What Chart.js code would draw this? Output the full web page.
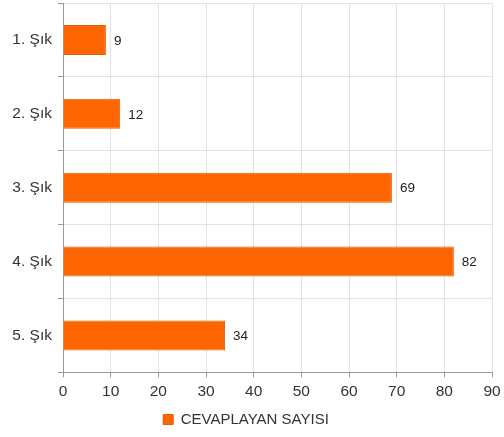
<!DOCTYPE html>
<html>
<head>
<meta charset="utf-8">
<script src="https://cdn.jsdelivr.net/npm/chart.js@4"></script>
<style>
  html, body { margin: 0; padding: 0; background: #fff; }
  #wrap { width: 504px; height: 437px; }
</style>
</head>
<body>
<div id="wrap"><canvas id="myChart"></canvas></div>
<script>
const categories = ['1. Şık', '2. Şık', '3. Şık', '4. Şık', '5. Şık'];
const answers = [9, 12, 69, 82, 34];
const seriesName = 'CEVAPLAYAN SAYISI';

// writes the value to the right of each bar
const valueLabels = {
    id: 'valueLabels',
    afterDatasetsDraw(chart) {
        const ctx = chart.ctx;
        const meta = chart.getDatasetMeta(0);
        ctx.save();
        ctx.font = '13.5px "Liberation Sans", Arial, sans-serif';
        ctx.fillStyle = '#222';
        ctx.textAlign = 'left';
        ctx.textBaseline = 'middle';
        meta.data.forEach(function(bar, i) {
            ctx.fillText(String(answers[i]), bar.x + 8, bar.y + 1);
        });
        ctx.restore();
    }
};

window.addEventListener('load', function() {
    Chart.defaults.font.family = '"Liberation Sans", Arial, sans-serif';
    Chart.defaults.font.size = 15.5;
    Chart.defaults.color = '#333';

    let ctx = document.getElementById('myChart').getContext('2d');
    let chart = new Chart(ctx, {
        type: 'bar',
        data: {
            labels: categories,
            datasets: [{
                label: seriesName,
                data: answers,
                backgroundColor: '#FF6600',
                borderColor: '#E0600A',
                borderWidth: 1,
                barPercentage: 0.5,
                categoryPercentage: 0.81
            }]
        },
        options: {
            indexAxis: 'y',
            responsive: true,
            maintainAspectRatio: false,
            animation: false,
            layout: { padding: { top: 3, right: 12, left: 0, bottom: 0 } },
            scales: {
                x: {
                    min: 0,
                    max: 90,
                    ticks: { stepSize: 10, color: '#333', padding: 5 },
                    grid: { color: '#e2e2e2', tickLength: 5, tickColor: '#999' },
                    border: { color: '#999' },
                    afterFit: function(scale) { scale.paddingLeft = 0; scale.paddingRight = 0; }
                },
                y: {
                    ticks: { color: '#333', padding: 6 },
                    grid: { color: '#e2e2e2', tickLength: 5, tickColor: '#999' },
                    border: { color: '#999' },
                    afterFit: function(scale) {
                        scale.width = 63;
                        scale.paddingTop = 0; scale.paddingBottom = 0;
                    }
                }
            },
            plugins: {
                legend: {
                    position: 'bottom',
                    labels: {
                        boxWidth: 10, boxHeight: 10, color: '#333', padding: 6,
                        font: { size: 15 }
                    }
                },
                tooltip: { enabled: false }
            }
        },
        plugins: [valueLabels]
    });
});
</script>
</body>
</html>
